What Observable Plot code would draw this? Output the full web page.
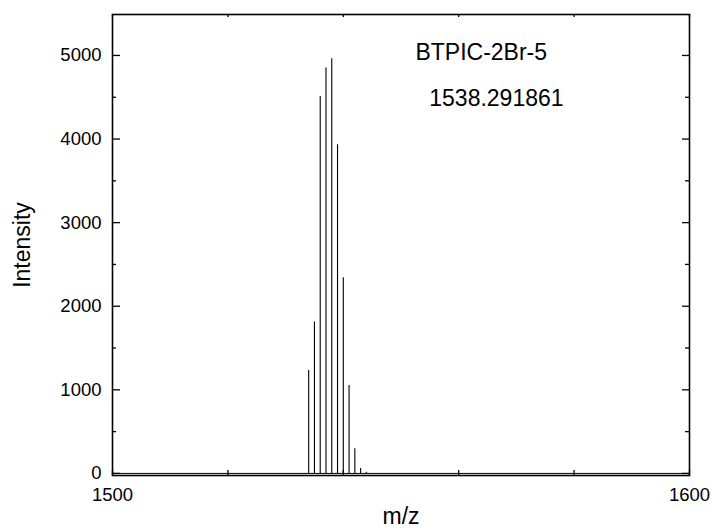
<!DOCTYPE html>
<html><head><meta charset="utf-8">
<script src="https://cdn.jsdelivr.net/npm/d3@7"></script>
<script src="https://cdn.jsdelivr.net/npm/@observablehq/plot@0.6"></script>
<style>body{margin:0;background:#fff;}</style>
</head><body><div id="chart"></div>
<script>
// Isotope peaks (m/z, intensity)
const peakMz = [1534, 1535, 1536, 1537, 1538, 1539, 1540, 1541, 1542, 1543, 1544];
const peakIntensity = [1232, 1810, 4510, 4850, 4960, 3932, 2341, 1053, 295, 60, 15];

// Axis ticks
const xTickValues = [1500, 1520, 1540, 1560, 1580, 1600];
const xTickLabels = [1500, 1600];
const yTickValues = [0, 1000, 2000, 3000, 4000, 5000];
const yMinorTicks = [500, 1500, 2500, 3500, 4500];

// Annotations
const annotationText = ["BTPIC-2Br-5", "1538.291861"];
const annotationMz = [1552.5, 1554.9];
const annotationIntensity = [5036, 4486];

const W = 711, H = 528;
const mL = 112, mR = 22, mT = 14, mB = 53;
const pw = W - mL - mR, ph = H - mT - mB;

const peaks = peakMz.map((m, i) => ({mz: m, intensity: peakIntensity[i]}));
const notes = annotationText.map((t, i) => ({text: t, mz: annotationMz[i], intensity: annotationIntensity[i]}));

const chart = Plot.plot({
  width: W, height: H,
  marginLeft: mL, marginRight: mR, marginTop: mT, marginBottom: mB,
  style: {fontFamily: "'Liberation Sans', Arial, sans-serif", background: "#fff", color: "#000"},
  x: {domain: [1500, 1600], label: null, axis: null},
  y: {domain: [-25, 5490], label: null, axis: null},
  marks: [
    Plot.ruleY([0], {x1: 1500, x2: 1600, stroke: "#000", strokeWidth: 1}),
    Plot.ruleX(peaks, {x: "mz", y1: 0, y2: "intensity", stroke: "#000", strokeWidth: 1.1}),
    Plot.tickY(yTickValues, {y: d => d, insetRight: pw - 8, stroke: "#000", strokeWidth: 1.3}),
    Plot.tickY(yMinorTicks, {y: d => d, insetRight: pw - 4, stroke: "#000", strokeWidth: 1.3}),
    Plot.tickY(yTickValues, {y: d => d, insetLeft: pw - 7, stroke: "#000", strokeWidth: 1.3}),
    Plot.tickY(yMinorTicks, {y: d => d, insetLeft: pw - 4, stroke: "#000", strokeWidth: 1.3}),
    Plot.tickX(xTickValues, {x: d => d, insetTop: ph - 5, stroke: "#000", strokeWidth: 1.3}),
    Plot.tickX(xTickValues, {x: d => d, insetBottom: ph - 3, stroke: "#000", strokeWidth: 1.3}),
    Plot.frame({stroke: "#000", strokeWidth: 1.6}),
    Plot.text(yTickValues, {frameAnchor: "left", y: d => d, text: d => String(d), textAnchor: "end", lineAnchor: "middle", dx: -11, fontSize: 18.5, fill: "#000"}),
    Plot.text(xTickLabels, {frameAnchor: "bottom", x: d => d, text: d => String(d), textAnchor: "middle", lineAnchor: "middle", dy: 20, fontSize: 18.5, fill: "#000"}),
    Plot.text(["Intensity"], {frameAnchor: "left", rotate: -90, dx: -90, textAnchor: "middle", lineAnchor: "middle", fontSize: 23, fill: "#000"}),
    Plot.text(["m/z"], {frameAnchor: "bottom", dy: 41, textAnchor: "middle", lineAnchor: "middle", fontSize: 23, fill: "#000"}),
    Plot.text(notes, {x: "mz", y: "intensity", text: "text", textAnchor: "start", lineAnchor: "middle", fontSize: 23, fill: "#000"})
  ]
});
document.getElementById("chart").appendChild(chart);
</script>
</body></html>
